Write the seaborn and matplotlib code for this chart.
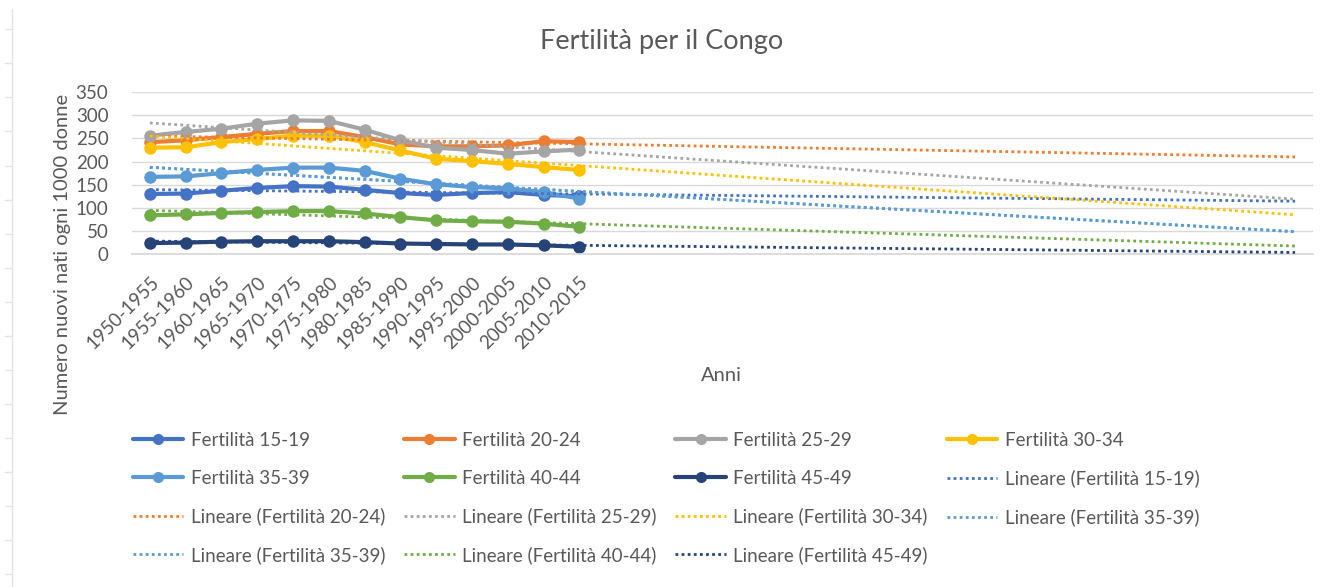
import numpy as np
import pandas as pd
import matplotlib
matplotlib.use('Agg')
import matplotlib.pyplot as plt
from matplotlib.lines import Line2D
import seaborn as sns

# periods (13 observed) + forecast periods used by the trendlines
periods = ['1950-1955', '1955-1960', '1960-1965', '1965-1970', '1970-1975',
           '1975-1980', '1980-1985', '1985-1990', '1990-1995', '1995-2000',
           '2000-2005', '2005-2010', '2010-2015']
n_forward = 20

fert_15_19 = [130, 131, 137, 143, 147, 146, 139, 132, 128, 132, 134, 128, 125]
fert_20_24 = [242, 246, 253, 260, 266, 266, 253, 237, 233, 233, 235, 244, 242]
fert_25_29 = [256, 264, 271, 282, 289, 288, 269, 246, 230, 225, 217, 222, 226]
fert_30_34 = [230, 231, 242, 249, 256, 256, 242, 224, 206, 201, 195, 188, 182]
fert_35_39 = [167, 168, 175, 182, 187, 187, 180, 163, 151, 145, 142, 134, 120]
fert_40_44 = [84, 86, 89, 91, 93, 93, 88, 80, 73, 71, 70, 66, 59]
fert_45_49 = [24, 25, 27, 28, 28, 28, 26, 23, 22, 21, 21, 19, 16]

series_names = ['Fertilità 15-19', 'Fertilità 20-24', 'Fertilità 25-29', 'Fertilità 30-34',
                'Fertilità 35-39', 'Fertilità 40-44', 'Fertilità 45-49']
series_values = [fert_15_19, fert_20_24, fert_25_29, fert_30_34, fert_35_39, fert_40_44, fert_45_49]
colors = ['#4472C4', '#ED7D31', '#A5A5A5', '#FFC000', '#5B9BD5', '#70AD47', '#264478']

# trendlines in the order Excel lists them (35-39 has two)
trend_series = ['Fertilità 15-19', 'Fertilità 20-24', 'Fertilità 25-29', 'Fertilità 30-34',
                'Fertilità 35-39', 'Fertilità 35-39', 'Fertilità 40-44', 'Fertilità 45-49']

sns.set_theme(style='white')
plt.rcParams['font.family'] = ['Lato', 'DejaVu Sans']
text_col = '#595959'
grid_col = '#D9D9D9'
dots = (0, (1, 1.2))

# long table for seaborn
rows = []
for name, vals in zip(series_names, series_values):
    for i, v in enumerate(vals):
        rows.append({'x': i, 'valore': v, 'serie': name})
df = pd.DataFrame(rows)
palette = dict(zip(series_names, colors))

fig = plt.figure(figsize=(13.24, 5.87), dpi=100)
ax = fig.add_axes([0.0997, 0.567, 0.892, 0.276])

sns.lineplot(data=df, x='x', y='valore', hue='serie', palette=palette, marker='o',
             markersize=9, markeredgewidth=0, linewidth=3, legend=False, ax=ax, zorder=2)

# linear trendlines, forecast forward
x_obs = np.arange(len(periods))
x_all = np.arange(len(periods) + n_forward)
for name in trend_series:
    vals = series_values[series_names.index(name)]
    slope, inter = np.polyfit(x_obs, vals, 1)
    trend = pd.DataFrame({'x': x_all, 'y': slope * x_all + inter})
    sns.lineplot(data=trend, x='x', y='y', color=palette[name], linewidth=2,
                 linestyle=dots, ax=ax, zorder=3)

ax.set_xlim(-0.5, len(x_all) - 0.5)
ax.set_ylim(0, 350)
ax.set_yticks(range(0, 351, 50))
ax.set_xticks(x_obs)
ax.set_xticklabels(periods, rotation=45, ha='right', va='top', rotation_mode='anchor')
ax.tick_params(axis='both', length=0, labelsize=13.5, colors=text_col)
ax.tick_params(axis='y', pad=17)
ax.tick_params(axis='x', pad=14)
ax.set_xlabel('')
ax.set_ylabel('')
ax.yaxis.grid(True, color=grid_col, linewidth=1)
ax.xaxis.grid(False)
for s in ['top', 'right', 'left']:
    ax.spines[s].set_visible(False)
ax.spines['bottom'].set_color(grid_col)
ax.set_axisbelow(True)

fig.text(0.5, 0.93, 'Fertilità per il Congo', ha='center', va='center', fontsize=19.5, color=text_col)
fig.text(0.047, 0.566, 'Numero nuovi nati ogni 1000 donne', rotation=90, ha='center', va='center',
         fontsize=14.5, color=text_col)
fig.text(0.545, 0.361, 'Anni', ha='center', va='center', fontsize=14.5, color=text_col)

# legend entries
handles, labels = [], []
for name, c in zip(series_names, colors):
    handles.append(Line2D([], [], color=c, linewidth=3, marker='o', markersize=8, markeredgewidth=0))
    labels.append(name)
for name in trend_series:
    handles.append(Line2D([], [], color=palette[name], linewidth=2, linestyle=dots))
    labels.append('Lineare (' + name + ')')

# matplotlib fills columns first; reorder so it reads row by row like Excel
ncol = 4
order = [i for c in range(ncol) for i in range(c, len(handles), ncol)]
fig.legend([handles[i] for i in order], [labels[i] for i in order], ncol=ncol,
           loc='upper left', bbox_to_anchor=(0.093, 0.28),
           frameon=False, fontsize=13.5, handlelength=2.7, handletextpad=0.4,
           columnspacing=1.0, labelspacing=1.1, borderpad=0, labelcolor=text_col)

# faint ruler line on the left edge of the screenshot
fig.add_artist(Line2D([0.009, 0.009], [0.0, 0.985], color='#E3E3E3', linewidth=1))
for yy in np.arange(0.95, 0.0, -0.058):
    fig.add_artist(Line2D([0.004, 0.009], [yy, yy], color='#E3E3E3', linewidth=1))

fig.savefig('out.png', dpi=100)
